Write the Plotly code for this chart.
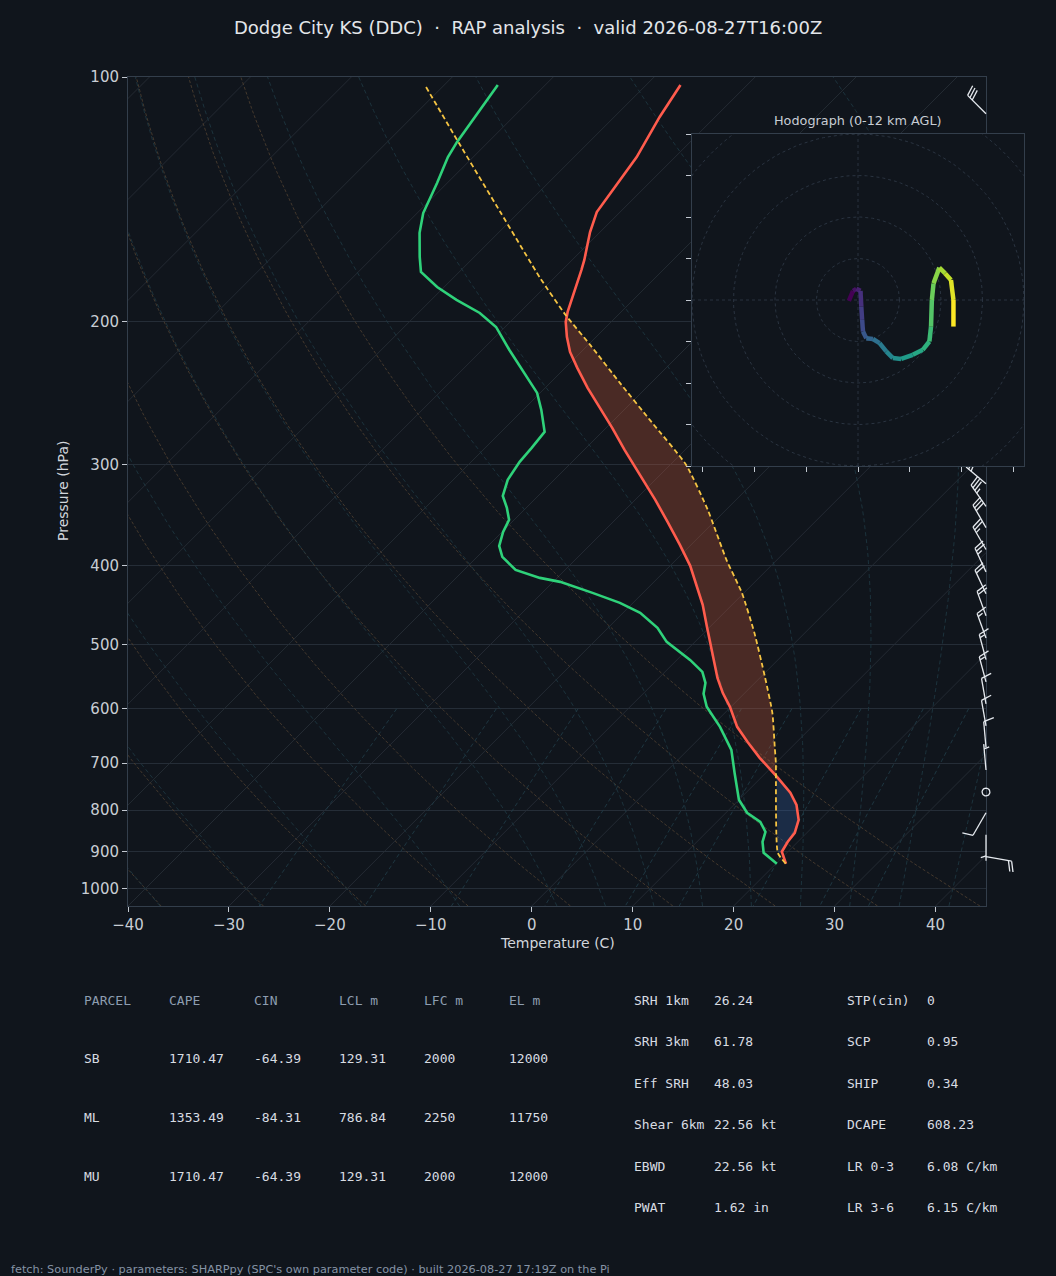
import numpy as np
import plotly.graph_objects as go
from plotly.colors import sample_colorscale

# --- sounding (pressure hPa, temperature C) ---
T_P = [102.3, 112.0, 125.5, 135.9, 146.7, 155.2, 168.0, 172.8, 184.5, 194.7, 200.3, 209.0, 218.1, 228.2,
       241.5, 255.6, 270.5, 287.9, 309.1, 331.8, 353.2, 377.0, 400.1, 422.3, 446.9, 475.7, 503.5, 534.3,
       549.8, 573.6, 596.8, 631.7, 659.1, 689.7, 727.9, 761.6, 788.0, 822.3, 853.1, 875.2, 900.3, 931.5]
T_C = [-66.6, -65.5, -63.8, -63.0, -62.3, -61.0, -58.8, -58.1, -56.6, -55.3, -54.5, -52.9, -51.1, -48.8,
       -45.8, -42.6, -39.4, -36.0, -32.0, -28.0, -24.6, -21.1, -18.0, -15.5, -12.9, -10.3, -7.9, -5.4,
       -4.2, -2.2, -0.1, 2.6, 5.1, 7.9, 11.5, 14.4, 16.2, 17.9, 18.8, 19.0, 19.4, 21.0]
TD_P = [102.3, 110.7, 120.2, 125.5, 135.1, 147.1, 155.6, 166.6, 173.8, 181.4, 188.2, 195.3, 203.2, 216.9,
        234.1, 245.0, 257.1, 273.6, 286.3, 297.9, 313.5, 328.1, 339.5, 351.2, 363.4, 378.1, 390.1, 404.7,
        414.0, 418.7, 432.0, 444.4, 457.2, 477.1, 496.4, 522.4, 540.4, 557.6, 575.2, 596.8, 631.7, 674.2,
        719.7, 776.9, 806.1, 827.0, 850.7, 875.2, 902.9, 931.5]
TD_C = [-84.7, -83.9, -83.1, -82.5, -81.0, -79.4, -77.8, -75.4, -73.8, -70.7, -67.5, -63.9, -60.9, -57.3,
        -52.9, -50.3, -48.2, -45.7, -45.4, -45.2, -44.6, -43.5, -41.9, -40.5, -39.9, -38.9, -37.5, -34.9,
        -31.7, -29.3, -25.0, -21.3, -18.3, -15.1, -12.8, -8.7, -6.3, -4.9, -4.0, -2.4, 0.9, 4.3,
        6.9, 10.0, 12.1, 14.3, 15.8, 16.5, 17.7, 20.1]
PARCEL_P = [102.9, 120.6, 147.1, 176.8, 196.4, 213.8, 238.1, 266.0, 300.5, 341.4, 393.4, 432.0, 483.9,
            548.2, 607.1, 668.5, 699.6, 902.9, 931.5]
PARCEL_C = [-91.6, -82.8, -71.7, -61.4, -55.2, -49.8, -43.1, -36.1, -28.4, -21.8, -15.0, -10.2, -5.0,
            0.4, 4.7, 8.3, 10.0, 19.1, 21.0]
EL_P, LFC_P, CIN_BASE_P = 196, 728, 903

# wind barbs (hPa, direction deg, speed kt)
WIND_P = [913, 858, 806, 760, 714, 670, 630, 592, 556, 522, 491, 461, 433, 407, 382, 359, 338, 317, 111]
WIND_DIR = [100, 180, 210, 0, 355, 355, 350, 350, 345, 345, 340, 340, 335, 335, 330, 330, 325, 310, 315]
WIND_KT = [20, 5, 10, 0, 5, 10, 10, 10, 15, 15, 15, 20, 20, 25, 25, 30, 35, 30, 30]

# hodograph (kt)
HODO_U = [-2.2, -1.2, -0.4, 0.6, 0.8, 1.0, 1.2, 2.0, 3.6, 5.2, 6.8, 8.4, 10.4, 13.2, 15.6, 17.2, 17.6,
          17.8, 18.2, 19.6, 21.0, 22.4, 23.0, 23.0]
HODO_V = [-0.2, 2.2, 2.7, 2.2, -1.6, -4.8, -7.6, -9.2, -9.4, -10.4, -12.4, -14.0, -14.2, -13.2, -12.0,
          -10.0, -6.4, 0.0, 4.0, 7.8, 6.4, 4.8, 0.0, -6.4]

# parameter tables
PARCEL_COLS = ["PARCEL", "CAPE", "CIN", "LCL m", "LFC m", "EL m"]
PARCEL_NAMES = ["SB", "ML", "MU"]
CAPE = [1710.47, 1353.49, 1710.47]
CIN = [-64.39, -84.31, -64.39]
LCL_M = [129.31, 786.84, 129.31]
LFC_M = [2000, 2250, 2000]
EL_M = [12000, 11750, 12000]
KIN_NAMES = ["SRH 1km", "SRH 3km", "Eff SRH", "Shear 6km", "EBWD", "PWAT"]
KIN_VALS = [26.24, 61.78, 48.03, 22.56, 22.56, 1.62]
KIN_UNITS = ["", "", "", " kt", " kt", " in"]
THERMO_NAMES = ["STP(cin)", "SCP", "SHIP", "DCAPE", "LR 0-3", "LR 3-6"]
THERMO_VALS = [0, 0.95, 0.34, 608.23, 6.08, 6.15]
THERMO_UNITS = ["", "", "", "", " C/km", " C/km"]

TITLE = "Dodge City KS (DDC)\u00a0\u00a0·\u00a0\u00a0RAP analysis\u00a0\u00a0·\u00a0\u00a0valid 2026-08-27T16:00Z"
FOOTER = "fetch: SounderPy · parameters: SHARPpy (SPC's own parameter code) · built 2026-08-27 17:19Z on the Pi"

# --- geometry ---
W, H = 1056, 1276
BG = "#10151c"
SANS = "DejaVu Sans"
MONO = "DejaVu Sans Mono"
PX0, PX1, PY0, PY1 = 128, 986, 77, 906          # skew-T plot box in pixels
T_MIN, T_MAX, P_TOP, P_BOT = -40, 45, 100, 1050
PX_PER_T = (PX1 - PX0) / (T_MAX - T_MIN)
PX_PER_LOG = (PY1 - PY0) / np.log10(P_BOT / P_TOP)
K = (PX_PER_LOG / np.log(10)) / PX_PER_T         # 45 degree skew


def skew(t, p):
    return np.asarray(t, float) + K * np.log(P_BOT / np.asarray(p, float))


def dom_x(a, b):
    return [a / W, b / W]


def dom_y(top, bottom):
    return [1 - bottom / H, 1 - top / H]


fig = go.Figure()


def line(x, y, color, width, dash=None, xa="x", ya="y", shape="linear", **kw):
    style = dict(color=color, width=width, dash=dash, shape=shape)
    if shape == "spline":
        style["smoothing"] = 0.5
    fig.add_trace(go.Scatter(x=x, y=y, mode="lines", xaxis=xa, yaxis=ya, line=style,
                             hoverinfo="skip", showlegend=False, **kw))


# --- background: isotherms, dry / moist adiabats, mixing ratio lines ---
for t in range(-120, 41, 10):
    pp = np.array([P_BOT, P_TOP])
    line(skew([t, t], pp), pp, "#262d36", 0.9)

p_grid = np.geomspace(P_BOT, P_TOP, 80)
for th in range(-40, 41, 10):
    tt = (th + 273.15) * (p_grid / 1000.0) ** 0.2857 - 273.15
    line(skew(tt, p_grid), p_grid, "#4a3c2f", 0.9, dash="3px,2px")

RD, CP, LV, EPS = 287.04, 1005.7, 2.501e6, 0.622


def dtdp(t, p):
    es = 6.112 * np.exp(17.67 * (t - 273.15) / (t - 29.65))
    rs = EPS * es / (p - es)
    return (RD * t + LV * rs) / (CP + LV * LV * rs * EPS / (RD * t * t)) / p


def integrate(t0, ps):
    out, t = [t0], t0
    for a, b in zip(ps[:-1], ps[1:]):
        h = b - a
        k1 = dtdp(t, a)
        k2 = dtdp(t + h * k1 / 2, a + h / 2)
        k3 = dtdp(t + h * k2 / 2, a + h / 2)
        k4 = dtdp(t + h * k3, b)
        t = t + h * (k1 + 2 * k2 + 2 * k3 + k4) / 6
        out.append(t)
    return np.array(out)


moist_t0 = np.array([-40, -30, -20, -10, 0, 5, 10, 15, 20, 25, 30, 35, 40, 45], float) + 273.15
p_up = np.linspace(1000, P_TOP, 91)
p_dn = np.linspace(1000, P_BOT, 6)
t_up = integrate(moist_t0, p_up)
t_dn = integrate(moist_t0, p_dn)
p_moist = np.concatenate([p_dn[::-1], p_up[1:]])
t_moist = np.vstack([t_dn[::-1], t_up[1:]]) - 273.15
for i in range(len(moist_t0)):
    line(skew(t_moist[:, i], p_moist), p_moist, "#1d3540", 0.9, dash="4px,3px")

p_mix = np.linspace(600, P_BOT, 30)
for w in [0.0004, 0.001, 0.002, 0.004, 0.007, 0.01, 0.016, 0.024, 0.032]:
    e = p_mix * w / (EPS + w)
    le = np.log(e / 6.112)
    td = 243.5 * le / (17.67 - le)
    line(skew(td, p_mix), p_mix, "#1f3a45", 0.9, dash="4px,3px")


# --- CAPE / CIN shading ---
def band(p_lo, p_hi):
    tp, tc = np.array(T_P), np.array(T_C)
    pp, pc = np.array(PARCEL_P), np.array(PARCEL_C)
    ps = np.concatenate([[p_lo, p_hi], tp[(tp > p_lo) & (tp < p_hi)], pp[(pp > p_lo) & (pp < p_hi)]])
    ps = np.unique(ps)
    env = np.interp(np.log(ps), np.log(tp), tc)
    par = np.interp(np.log(ps), np.log(pp), pc)
    x = np.concatenate([skew(par, ps), skew(env, ps)[::-1]])
    y = np.concatenate([ps, ps[::-1]])
    return x, y


x, y = band(EL_P, LFC_P)
fig.add_trace(go.Scatter(x=x, y=y, mode="lines", fill="toself", fillcolor="rgba(209,94,58,0.3)",
                         line=dict(width=0), hoverinfo="skip", showlegend=False))
x, y = band(LFC_P, CIN_BASE_P)
fig.add_trace(go.Scatter(x=x, y=y, mode="lines", fill="toself", fillcolor="rgba(59,104,181,0.28)",
                         line=dict(width=0), hoverinfo="skip", showlegend=False))

# --- profiles ---
line(skew(TD_C, TD_P), TD_P, "#2fd27a", 2.6)
line(skew(T_C, T_P), T_P, "#ff5c4d", 2.6)
line(skew(PARCEL_C, PARCEL_P), PARCEL_P, "#f5c443", 1.8, dash="5px,3px", shape="spline")


# --- wind barbs, drawn on a wider twin axis so they can poke past the frame ---
def barb(p, wdir, spd, xs, ys):
    L = 26.0

    def add(pts):
        for dx, dy in pts:
            xs.append(T_MAX + dx / PX_PER_T)
            ys.append(10 ** (np.log10(p) - dy / PX_PER_LOG))
        xs.append(None)
        ys.append(None)

    s5 = int(round(spd / 5.0)) * 5
    if s5 == 0:
        a = np.linspace(0, 2 * np.pi, 25)
        add(list(zip(0.15 * L * np.cos(a), 0.15 * L * np.sin(a))))
        return
    r = np.radians(wdir)
    u = np.array([np.sin(r), np.cos(r)])
    perp = np.array([u[1], -u[0]])
    add([(0, 0), tuple(L * u)])
    pos = L
    sp = 0.125 * L
    for _ in range(s5 // 10):
        add([tuple(pos * u), tuple((pos + sp) * u + 0.4 * L * perp)])
        pos -= sp
    if s5 % 10:
        if pos == L:
            pos -= 1.5 * sp
        add([tuple(pos * u), tuple((pos + sp / 2) * u + 0.2 * L * perp)])


bx, by = [], []
for p, d, s in zip(WIND_P, WIND_DIR, WIND_KT):
    barb(p, d, s, bx, by)
line(bx, by, "#e6eaef", 1.3, xa="x2", ya="y2")

# --- hodograph inset ---
R = 40
line([-R, R, R, -R, -R], [-R, -R, R, R, -R], BG, 0, xa="x3", ya="y3", fill="toself", fillcolor=BG)
ang = np.linspace(0, 2 * np.pi, 181)
for rad in range(10, 61, 10):
    line(rad * np.cos(ang), rad * np.sin(ang), "#2c3744", 0.9, dash="3px,3px", xa="x3", ya="y3")
line([-R, R], [0, 0], "#2c3744", 0.9, dash="3px,3px", xa="x3", ya="y3")
line([0, 0], [-R, R], "#2c3744", 0.9, dash="3px,3px", xa="x3", ya="y3")
cols = sample_colorscale("Viridis", list(np.linspace(0, 1, len(HODO_U) - 1)))
for i in range(len(HODO_U) - 1):
    line(HODO_U[i:i + 2], HODO_V[i:i + 2], cols[i], 4.5, xa="x3", ya="y3")

# --- axes ---
axis_style = dict(showline=True, mirror=True, linecolor="#333e4b", linewidth=1, ticks="outside",
                  ticklen=5, tickcolor="#c3c9d1", zeroline=False, automargin=False,
                  tickfont=dict(family=SANS, size=15, color="#c8cdd4"))
plain = {k: v for k, v in axis_style.items() if k != "tickfont"}
fig.update_layout(
    width=W, height=H, margin=dict(l=0, r=0, t=0, b=0, pad=0), autosize=False,
    paper_bgcolor=BG, plot_bgcolor="rgba(0,0,0,0)", showlegend=False,
    xaxis=dict(domain=dom_x(PX0, PX1), range=[T_MIN, T_MAX], tickvals=list(range(-40, 41, 10)),
               ticktext=[str(v).replace("-", "\u2212") for v in range(-40, 41, 10)],
               showgrid=False, **axis_style),
    yaxis=dict(domain=dom_y(PY0, PY1), type="log", range=[np.log10(P_BOT), np.log10(P_TOP)],
               tickvals=list(range(100, 1001, 100)), ticktext=[str(v) for v in range(100, 1001, 100)],
               showgrid=True, gridcolor="#252d37", gridwidth=1, **axis_style),
    xaxis2=dict(domain=dom_x(PX0, W), range=[T_MIN, T_MIN + (W - PX0) / PX_PER_T], visible=False,
                anchor="y2", automargin=False),
    yaxis2=dict(domain=dom_y(PY0, PY1), type="log", range=[np.log10(P_BOT), np.log10(P_TOP)],
                visible=False, anchor="x2", automargin=False),
    xaxis3=dict(domain=dom_x(692, 1024), range=[-R, R], tickvals=list(np.arange(-37.5, 37.6, 12.5)),
                showticklabels=False, showgrid=False, anchor="y3", **plain),
    yaxis3=dict(domain=dom_y(134, 466), range=[-R, R], tickvals=list(range(-40, 41, 10)),
                showticklabels=False, showgrid=False, anchor="x3", **plain),
)


def text(xp, yp, s, size, color, family=SANS, anchor="left", angle=0):
    fig.add_annotation(x=xp / W, y=1 - yp / H, xref="paper", yref="paper", text=s, showarrow=False,
                       xanchor=anchor, yanchor="middle", textangle=angle,
                       font=dict(family=family, size=size, color=color))


text(528, 27, TITLE, 18, "#e3e6ea", anchor="center")
text(557, 943, "Temperature (C)", 14, "#d2d6dc", anchor="center")
text(63, 491, "Pressure (hPa)", 14, "#d2d6dc", anchor="center", angle=-90)
text(858, 120, "Hodograph (0-12 km AGL)", 12.8, "#c8cdd4", anchor="center")

col_x = [84, 169, 254, 339, 424, 509]
for cx, c in zip(col_x, PARCEL_COLS):
    text(cx - 2, 1000, c, 13, "#8d9db0", family=MONO)
for row, vals in enumerate(zip(PARCEL_NAMES, CAPE, CIN, LCL_M, LFC_M, EL_M)):
    for cx, v in zip(col_x, vals):
        text(cx - 2, 1058 + row * 59, v if isinstance(v, str) else f"{v:g}", 13, "#d8dce2", family=MONO)

row_y = [1000, 1041, 1083, 1124, 1166, 1207]
for yy, n, v, u in zip(row_y, KIN_NAMES, KIN_VALS, KIN_UNITS):
    text(632, yy, n, 13, "#d8dce2", family=MONO)
    text(712, yy, f"{v:g}{u}", 13, "#d8dce2", family=MONO)
for yy, n, v, u in zip(row_y, THERMO_NAMES, THERMO_VALS, THERMO_UNITS):
    text(845, yy, n, 13, "#d8dce2", family=MONO)
    text(925, yy, f"{v:g}{u}", 13, "#d8dce2", family=MONO)

text(9, 1269, FOOTER, 11.3, "#8593a5")

fig.write_html("out.html", config={"responsive": False, "displayModeBar": False},
               post_script="document.body.style.margin='0';document.body.style.overflow='hidden';")
